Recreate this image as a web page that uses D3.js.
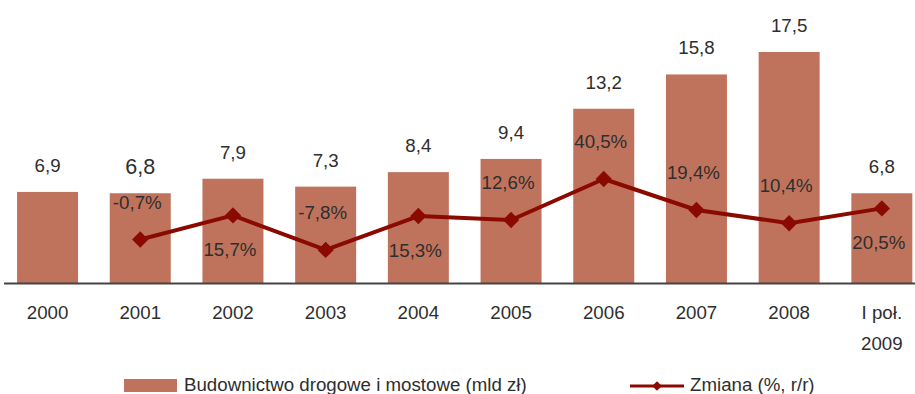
<!DOCTYPE html>
<html><head><meta charset="utf-8">
<script src="https://cdn.jsdelivr.net/npm/d3@7"></script>
<style>body{margin:0;background:#fff}svg{display:block;font-family:"Liberation Sans",Arial,sans-serif}</style>
</head><body>
<svg id="c" width="915" height="394"></svg>
<script>
const categories = ["2000","2001","2002","2003","2004","2005","2006","2007","2008","I poł.\n2009"];
const barValues = [6.9,6.8,7.9,7.3,8.4,9.4,13.2,15.8,17.5,6.8];
const barLabels = ["6,9","6,8","7,9","7,3","8,4","9,4","13,2","15,8","17,5","6,8"];
const changeValues = [null,-0.7,15.7,-7.8,15.3,12.6,40.5,19.4,10.4,20.5];
const changeLabels = [null,"-0,7%","15,7%","-7,8%","15,3%","12,6%","40,5%","19,4%","10,4%","20,5%"];
const changeLabelSide = [null,"above","below","above","below","above","above","above","above","below"];
const seriesNames = ["Budownictwo drogowe i mostowe (mld zł)","Zmiana (%, r/r)"];

const barColor = "#C0735C", lineColor = "#8B0A00", textColor = "#2e2e2e";
const fs = "18.7px";
const svg = d3.select("#c");
const baseY = 283;

const x = d3.scaleBand().domain(categories).range([1.2, 928.2]).paddingInner(0.342).paddingOuter(0.171);
const y = d3.scaleLinear().domain([0, 17.5]).range([baseY, 52]);
const y2 = d3.scaleLinear().domain([0, 40.5]).range([238.5, 179]);

// bars
svg.selectAll("rect.bar").data(categories).join("rect")
  .attr("class","bar")
  .attr("x", d => x(d)).attr("width", x.bandwidth())
  .attr("y", (d,i) => y(barValues[i])).attr("height", (d,i) => baseY - y(barValues[i]))
  .attr("fill", barColor);

// axis
const axis = d3.axisBottom(x).tickSize(0).tickFormat("");
const ag = svg.append("g").attr("transform", `translate(0,${baseY})`).call(axis);
ag.select(".domain").remove();
svg.append("line").attr("x1",4).attr("x2",915).attr("y1",baseY+0.5).attr("y2",baseY+0.5)
  .attr("stroke","#444").attr("stroke-width",2);

// category labels
categories.forEach((c,i) => {
  const t = svg.append("text").attr("x", x(c) + x.bandwidth()/2).attr("y", 319)
    .attr("text-anchor","middle").attr("font-size",fs).attr("fill",textColor);
  c.split("\n").forEach((ln,j) => t.append("tspan").attr("x", x(c)+x.bandwidth()/2).attr("dy", j?31:0).text(ln));
});

// bar value labels
svg.selectAll("text.bv").data(categories).join("text")
  .attr("class","bv")
  .attr("x", d => x(d) + x.bandwidth()/2)
  .attr("y", (d,i) => y(barValues[i]) - (i===1?19:20))
  .attr("text-anchor","middle")
  .attr("font-size", (d,i) => i===1 ? "21.5px" : fs)
  .attr("fill", textColor)
  .text((d,i) => barLabels[i]);

// line
const pts = categories.map((c,i) => ({c, v: changeValues[i], i})).filter(d => d.v !== null);
const line = d3.line().x(d => x(d.c) + x.bandwidth()/2).y(d => y2(d.v));
svg.append("path").datum(pts).attr("d", line).attr("fill","none")
  .attr("stroke", lineColor).attr("stroke-width", 4).attr("stroke-linejoin","round");
const diamond = d3.symbol().type(d3.symbolDiamond2).size(170);
svg.selectAll("path.mk").data(pts).join("path").attr("class","mk")
  .attr("transform", d => `translate(${x(d.c)+x.bandwidth()/2},${y2(d.v)})`)
  .attr("d", diamond).attr("fill", lineColor);

svg.selectAll("text.cv").data(pts).join("text").attr("class","cv")
  .attr("x", d => x(d.c) + x.bandwidth()/2 - 3)
  .attr("y", d => y2(d.v) + (changeLabelSide[d.i]==="above" ? -31 : 41))
  .attr("text-anchor","middle").attr("font-size",fs).attr("fill", textColor)
  .text(d => changeLabels[d.i]);

// legend
svg.append("rect").attr("x",124).attr("y",379).attr("width",53).attr("height",13).attr("fill",barColor);
svg.append("text").attr("x",184).attr("y",391).attr("font-size",fs).attr("fill",textColor).text(seriesNames[0]);
svg.append("line").attr("x1",630).attr("x2",684).attr("y1",386).attr("y2",386).attr("stroke",lineColor).attr("stroke-width",3);
svg.append("path").attr("transform","translate(657,386)").attr("d", d3.symbol().type(d3.symbolDiamond2).size(60)).attr("fill",lineColor);
svg.append("text").attr("x",690).attr("y",391).attr("font-size",fs).attr("fill",textColor).text(seriesNames[1]);
</script>
</body></html>
